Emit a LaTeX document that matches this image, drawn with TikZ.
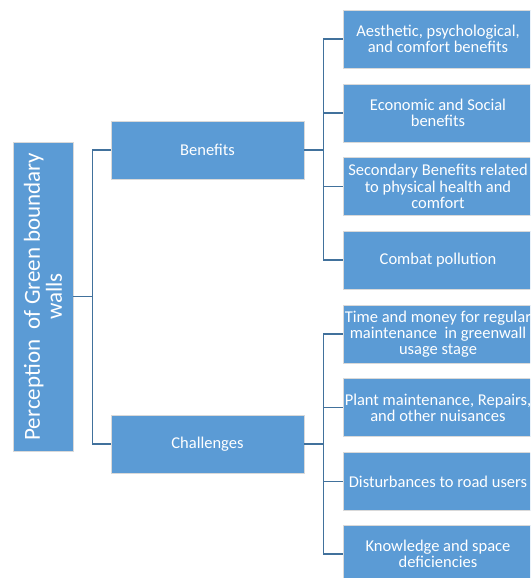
\documentclass[tikz,border=0pt]{standalone}
\usepackage{fontspec}
\setmainfont{Carlito}
\usetikzlibrary{positioning}
\definecolor{boxblue}{HTML}{5B9BD5}
\definecolor{lineblue}{HTML}{41719C}
\begin{document}
\begin{tikzpicture}[
    x=1pt,y=-1pt,
    topbox/.style={draw=black!15,line width=0.8pt,fill=boxblue,text=white,
      minimum width=309pt,minimum height=60pt,inner sep=2pt,align=center,
      rotate=90,font=\fontsize{23}{22}\selectfont},
    midbox/.style={draw=black!15,line width=0.8pt,fill=boxblue,text=white,
      minimum width=193pt,minimum height=58pt,inner sep=2pt,align=center,
      font=\fontsize{16.5}{16.3}\selectfont},
    leafbox/.style={draw=black!15,line width=0.8pt,fill=boxblue,text=white,
      minimum width=190pt,minimum height=58pt,inner sep=1pt,align=center,
      font=\fontsize{16.5}{16.3}\selectfont},
    conn/.style={draw=lineblue,line width=1.6pt}
  ]
    \useasboundingbox (0,0) rectangle (530,578);
    \clip (0,0) rectangle (530,578);
    \node[topbox] (percep) at (43,296.5) {Perception~ of Green boundary\\walls};
    \node[midbox] (benefits) at (207.5,150) {Benefits};
    \node[midbox] (challenges) at (207.5,444) {Challenges};
    \node[leafbox] (aesth) at (438,39) {Aesthetic, psychological,\\and comfort benefits};
    \node[leafbox] (econ) at (438,113) {Economic and Social\\benefits};
    \node[leafbox] (second) at (438,186.5) {Secondary Benefits related\\to physical health and\\comfort};
    \node[leafbox] (combat) at (438,260) {Combat pollution};
    \node[leafbox] (timemoney) at (438,334) {Time and money for regular\\maintenance~ in greenwall\\usage stage};
    \node[leafbox] (plant) at (438,407.5) {Plant maintenance, Repairs,\\and other nuisances};
    \node[leafbox] (disturb) at (438,481.5) {Disturbances to road users};
    \node[leafbox] (knowl) at (438,554) {Knowledge and space\\deficiencies};
    % root to the two branches
    \draw[conn] (percep.south) -- ++(19,0) coordinate (lbar);
    \draw[conn] (lbar) |- (benefits.west);
    \draw[conn] (lbar) |- (challenges.west);
    % benefits
    \draw[conn] (benefits.east) -- ++(19,0) coordinate (bbar);
    \foreach \leaf in {aesth,econ,second,combat}
      \draw[conn] (bbar) |- (\leaf.west);
    % challenges
    \draw[conn] (challenges.east) -- ++(19,0) coordinate (cbar);
    \foreach \leaf in {timemoney,plant,disturb,knowl}
      \draw[conn] (cbar) |- (\leaf.west);
  \end{tikzpicture}
\end{document}
